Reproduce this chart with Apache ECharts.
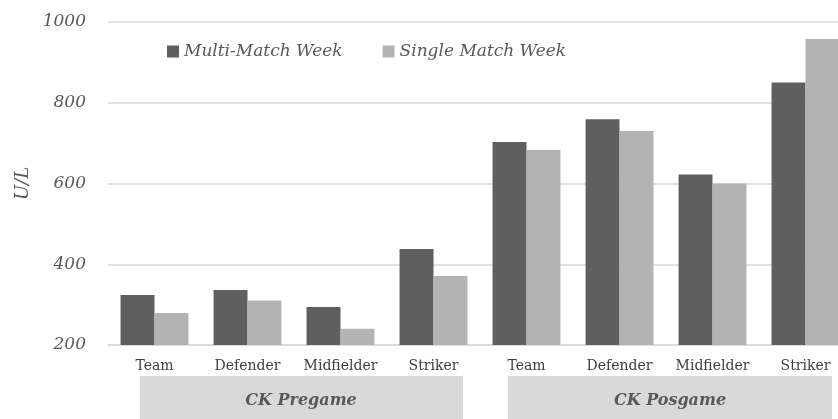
<!DOCTYPE html>
<html>
<head>
    <meta charset="utf-8" />
    <title>CK</title>
    <script src="https://cdn.jsdelivr.net/npm/echarts@6/dist/echarts.min.js"></script>
</head>
<body style="margin:0;background:#fff;overflow:hidden;">
    <!-- chart is a bit wider than the window: the last bar is cut at the right edge, as in the source -->
    <div id="main" style="width:852px;height:419px;"></div>
    <script type="text/javascript">
        var categories = ['Team', 'Defender', 'Midfielder', 'Striker', 'Team', 'Defender', 'Midfielder', 'Striker'];
        var multiMatch = [324, 336, 294, 438, 703, 759, 622, 850];
        var singleMatch = [279, 310, 240, 371, 683, 730, 600, 958];
        var groups = ['CK Pregame', 'CK Posgame'];
        var seriesNames = ['Multi-Match Week', 'Single Match Week'];

        var font = 'DejaVu Serif';
        var chart = echarts.init(document.getElementById('main'));

        var option = {
            animation: false,
            textStyle: { fontFamily: font },
            legend: {
                data: seriesNames,
                icon: 'rect',
                left: 162,
                top: 38,
                itemWidth: 12,
                itemHeight: 12,
                itemGap: 40,
                textStyle: { fontSize: 17, fontStyle: 'italic', color: '#595959', fontFamily: font }
            },
            grid: { left: 108, right: 0, top: 22, bottom: 74 },
            xAxis: {
                type: 'category',
                data: categories,
                axisLine: { lineStyle: { color: '#d9d9d9', width: 1.5 } },
                axisTick: { show: false },
                axisLabel: { color: '#404040', fontSize: 14, margin: 14, fontFamily: font, interval: 0 }
            },
            yAxis: {
                type: 'value',
                min: 200,
                max: 1000,
                interval: 200,
                name: 'U/L',
                nameLocation: 'middle',
                nameGap: 69,
                nameTextStyle: { fontSize: 18, fontStyle: 'italic', color: '#595959', fontFamily: font },
                axisLine: { show: false },
                axisTick: { show: false },
                axisLabel: {
                    color: '#595959', fontSize: 17, fontStyle: 'italic', margin: 22, fontFamily: font,
                    formatter: function (v) { return String(v); }
                },
                splitLine: { lineStyle: { color: '#d9d9d9', width: 1.5 } }
            },
            series: [{
                name: seriesNames[0],
                type: 'bar',
                data: multiMatch,
                barGap: '0%',
                barCategoryGap: '27%',
                itemStyle: { color: '#5f5f5f' }
            }, {
                name: seriesNames[1],
                type: 'bar',
                data: singleMatch,
                itemStyle: { color: '#b3b3b3' }
            }],
            graphic: [{
                type: 'group',
                left: 140,
                top: 376,
                children: [{
                    type: 'rect',
                    shape: { x: 0, y: 0, width: 323, height: 45 },
                    style: { fill: '#d9d9d9' }
                }, {
                    type: 'text',
                    x: 161,
                    y: 25,
                    style: {
                        text: groups[0], fill: '#595959', font: 'italic bold 16px "DejaVu Serif"',
                        align: 'center', verticalAlign: 'middle'
                    }
                }]
            }, {
                type: 'group',
                left: 508,
                top: 376,
                children: [{
                    type: 'rect',
                    shape: { x: 0, y: 0, width: 324, height: 45 },
                    style: { fill: '#d9d9d9' }
                }, {
                    type: 'text',
                    x: 162,
                    y: 25,
                    style: {
                        text: groups[1], fill: '#595959', font: 'italic bold 16px "DejaVu Serif"',
                        align: 'center', verticalAlign: 'middle'
                    }
                }]
            }]
        };
        chart.setOption(option);
    </script>
</body>
</html>
